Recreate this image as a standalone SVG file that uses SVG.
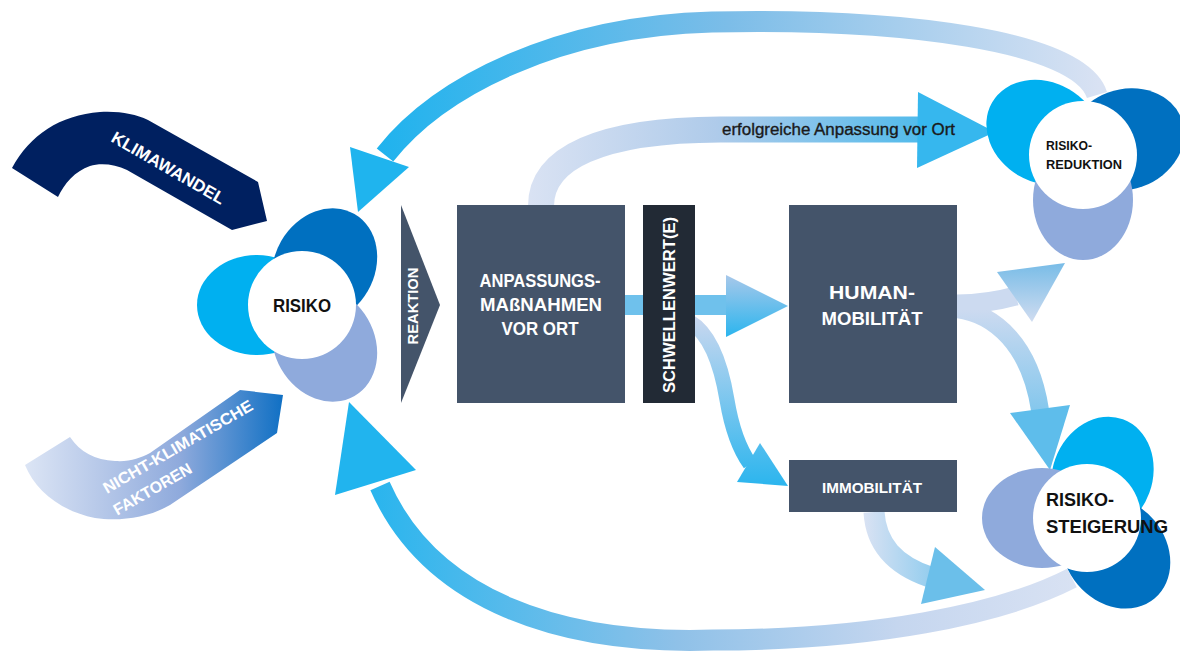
<svg xmlns="http://www.w3.org/2000/svg" width="1180" height="655" viewBox="0 0 1180 655">
  <style>
    .box { fill: #44546A; }
    .dark { fill: #222A35; }
    .lbl { font-family: "Liberation Sans", Arial, sans-serif; font-weight: bold; fill: #FFFFFF; }
    .blk { font-family: "Liberation Sans", Arial, sans-serif; font-weight: bold; fill: #111111; }
    .cyan { fill: #00B0F0; }
    .navy { fill: #0070C0; }
    .lav { fill: #8FAADC; }
    .core { fill: #FFFFFF; }
    .shaft { fill: none; stroke-linecap: butt; }
  </style>
  <defs>
    <linearGradient id="gTop" gradientUnits="userSpaceOnUse" x1="358" y1="0" x2="1100" y2="0">
      <stop offset="0" stop-color="#1AB2EE"/>
      <stop offset="0.5" stop-color="#7CBDE8"/>
      <stop offset="1" stop-color="#D9E2F3"/>
    </linearGradient>
    <linearGradient id="gBottom" gradientUnits="userSpaceOnUse" x1="349" y1="0" x2="1080" y2="0">
      <stop offset="0" stop-color="#22B4EE"/>
      <stop offset="0.45" stop-color="#8FC1E8"/>
      <stop offset="0.75" stop-color="#C5D6EF"/>
      <stop offset="1" stop-color="#D9E2F3"/>
    </linearGradient>
    <linearGradient id="gErfolg" gradientUnits="userSpaceOnUse" x1="530" y1="0" x2="995" y2="0">
      <stop offset="0" stop-color="#D9E2F3"/>
      <stop offset="0.4" stop-color="#AFCBEA"/>
      <stop offset="0.8" stop-color="#5ABCEB"/>
      <stop offset="1" stop-color="#2BB5EE"/>
    </linearGradient>
    <linearGradient id="gHead" gradientUnits="userSpaceOnUse" x1="0" y1="275" x2="0" y2="337">
      <stop offset="0" stop-color="#A8C8EA"/>
      <stop offset="1" stop-color="#2BB5EE"/>
    </linearGradient>
    <linearGradient id="gImmo" gradientUnits="userSpaceOnUse" x1="0" y1="318" x2="0" y2="486">
      <stop offset="0" stop-color="#C8D7EF"/>
      <stop offset="1" stop-color="#2BB5EE"/>
    </linearGradient>
    <linearGradient id="gImmoOut" gradientUnits="userSpaceOnUse" x1="864" y1="0" x2="985" y2="0">
      <stop offset="0" stop-color="#D9E2F3"/>
      <stop offset="1" stop-color="#5EBDEB"/>
    </linearGradient>
    <linearGradient id="gRed" gradientUnits="userSpaceOnUse" x1="0" y1="263" x2="0" y2="322">
      <stop offset="0" stop-color="#78BCE7"/>
      <stop offset="1" stop-color="#D0DCF0"/>
    </linearGradient>
    <linearGradient id="gSteig" gradientUnits="userSpaceOnUse" x1="0" y1="310" x2="0" y2="470">
      <stop offset="0" stop-color="#CCDAF0"/>
      <stop offset="1" stop-color="#5ABCEB"/>
    </linearGradient>
    <linearGradient id="gNicht" gradientUnits="userSpaceOnUse" x1="25" y1="0" x2="283" y2="0">
      <stop offset="0" stop-color="#DCE5F5"/>
      <stop offset="0.6" stop-color="#8FAADC"/>
      <stop offset="1" stop-color="#1070C4"/>
    </linearGradient>
    <!-- one petal, pointing along +x from the flower centre -->
    <ellipse id="petal" cx="45" cy="0" rx="60" ry="50"/>
  </defs>

  <!-- connectors -->
  <g id="connectors">
    <!-- Risiko-Reduktion back to Risiko -->
    <path class="shaft" d="M1097,95 C1080,40 900,18 712,22 C560,26 440,85 385,155" stroke="url(#gTop)" stroke-width="21"/>
    <polygon points="350,147 409,167 358,212" fill="#1FB4EE"/>
    <!-- Risiko-Steigerung back to Risiko -->
    <path class="shaft" d="M1072,578 C1000,615 870,640 713,640 C560,645 430,600 380,486" stroke="url(#gBottom)" stroke-width="21"/>
    <polygon points="416,470 335,495 349,402" fill="#21B4EE"/>
    <!-- erfolgreiche Anpassung vor Ort -->
    <path class="shaft" d="M541,206 C541,158 600,130 720,129.5 L920,129.5" stroke="url(#gErfolg)" stroke-width="26"/>
    <polygon points="918,92 995,132 917,168" fill="#36B7EE"/>
    <!-- Anpassung to Human-Mobilität -->
    <rect x="620" y="295" width="108" height="20" fill="#6FC1EC"/>
    <polygon points="726,275 788,306 726,337" fill="url(#gHead)"/>
    <!-- Schwellenwert to Immobilität -->
    <path class="shaft" d="M690,322 C712,335 722,370 727,400 C732,430 740,450 750,464" stroke="url(#gImmo)" stroke-width="15"/>
    <polygon points="760,443 737,482 788,486" fill="url(#gImmo)"/>
    <!-- Immobilität to Risiko-Steigerung -->
    <path class="shaft" d="M874,512 C876,545 895,565 930,577" stroke="url(#gImmoOut)" stroke-width="21"/>
    <polygon points="935,547 921,604 985,590" fill="#6BBFEA"/>
    <!-- Human-Mobilität to Risiko-Reduktion -->
    <path class="shaft" d="M957,304 C980,304 998,301 1016,296" stroke="#CCDAF0" stroke-width="19"/>
    <polygon points="997,272 1032,322 1065,263" fill="url(#gRed)"/>
    <!-- Human-Mobilität to Risiko-Steigerung -->
    <path class="shaft" d="M957,309 C995,314 1030,345 1040,410" stroke="url(#gSteig)" stroke-width="18"/>
    <polygon points="1010,413 1070,405 1050,470" fill="#5EBDEB"/>
  </g>

  <g id="klimawandel">
    <path d="M12,168 C30,135 60,115 100,112 C120,111 135,114 148,120 L258,182 L267,221 L232,230 L127,170 C115,164 100,163 90,166 C75,171 64,184 58,197 Z" fill="#002060"/>
    <text class="lbl" transform="translate(110,141) rotate(30)" font-size="17" textLength="128" lengthAdjust="spacingAndGlyphs">KLIMAWANDEL</text>
  </g>

  <g id="nicht-klimatische-faktoren">
    <path d="M70,437 C80,452 95,460 115,461 C130,462 140,458 150,453 L240,390 L283,395 L277,433 L170,505 C150,517 120,522 95,518 C60,511 35,490 25,465 Z" fill="url(#gNicht)"/>
    <g transform="translate(107,494) rotate(-30)">
      <text class="lbl" x="0" y="0" font-size="16" textLength="170" lengthAdjust="spacingAndGlyphs">NICHT-KLIMATISCHE</text>
      <text class="lbl" x="-2" y="24" font-size="16">FAKTOREN</text>
    </g>
  </g>

  <g id="risiko">
    <g transform="translate(302,305)">
      <use href="#petal" class="cyan" transform="rotate(180)"/>
      <use href="#petal" class="navy" transform="rotate(-60)"/>
      <use href="#petal" class="lav" transform="rotate(60)"/>
      <circle class="core" r="54"/>
    </g>
    <text class="blk" x="302" y="312" font-size="19" text-anchor="middle" textLength="58" lengthAdjust="spacingAndGlyphs">RISIKO</text>
  </g>

  <g id="reaktion">
    <polygon points="401,205 440,305 401,403" class="box"/>
    <text class="lbl" transform="translate(418,306) rotate(-90)" font-size="15" text-anchor="middle" textLength="77" lengthAdjust="spacingAndGlyphs">REAKTION</text>
  </g>

  <g id="anpassung">
    <rect x="457" y="205" width="168" height="198" class="box"/>
    <text class="lbl" x="540" y="287" font-size="18" text-anchor="middle" textLength="121" lengthAdjust="spacingAndGlyphs">ANPASSUNGS-</text>
    <text class="lbl" x="541" y="311" font-size="18" text-anchor="middle" textLength="122" lengthAdjust="spacingAndGlyphs">MAßNAHMEN</text>
    <text class="lbl" x="540" y="335" font-size="18" text-anchor="middle" textLength="77" lengthAdjust="spacingAndGlyphs">VOR ORT</text>
  </g>

  <g id="schwellenwert">
    <rect x="643" y="205" width="52" height="198" class="dark"/>
    <text class="lbl" transform="translate(675,305) rotate(-90)" font-size="17" text-anchor="middle" textLength="176" lengthAdjust="spacingAndGlyphs">SCHWELLENWERT(E)</text>
  </g>

  <g id="human-mobilitaet">
    <rect x="789" y="205" width="168" height="198" class="box"/>
    <text class="lbl" x="872" y="299" font-size="19" text-anchor="middle" textLength="86" lengthAdjust="spacingAndGlyphs">HUMAN-</text>
    <text class="lbl" x="872" y="325" font-size="19" text-anchor="middle" textLength="101" lengthAdjust="spacingAndGlyphs">MOBILITÄT</text>
  </g>

  <g id="immobilitaet">
    <rect x="789" y="460" width="168" height="52" class="box"/>
    <text class="lbl" x="872" y="493" font-size="15" text-anchor="middle" textLength="100" lengthAdjust="spacingAndGlyphs">IMMOBILITÄT</text>
  </g>

  <g id="erfolgreiche-anpassung">
    <text x="722" y="135" font-family="Liberation Sans, Arial, sans-serif" font-size="16" fill="#1A1A1A" stroke="#1A1A1A" stroke-width="0.35" textLength="233" lengthAdjust="spacingAndGlyphs">erfolgreiche Anpassung vor Ort</text>
  </g>

  <g id="risiko-reduktion">
    <g transform="translate(1083,155)">
      <use href="#petal" class="cyan" transform="rotate(-150)"/>
      <use href="#petal" class="navy" transform="rotate(-20)"/>
      <use href="#petal" class="lav" transform="rotate(90)"/>
      <circle class="core" r="54"/>
    </g>
    <text class="blk" x="1046" y="150" font-size="13" textLength="46" lengthAdjust="spacingAndGlyphs">RISIKO-</text>
    <text class="blk" x="1046" y="169" font-size="13" textLength="76" lengthAdjust="spacingAndGlyphs">REDUKTION</text>
  </g>

  <g id="risiko-steigerung">
    <g transform="translate(1087,518)">
      <use href="#petal" class="cyan" transform="rotate(-70)"/>
      <use href="#petal" class="lav" transform="rotate(180)"/>
      <use href="#petal" class="navy" transform="rotate(50)"/>
      <circle class="core" r="54"/>
    </g>
    <text class="blk" x="1046" y="506" font-size="18" textLength="68" lengthAdjust="spacingAndGlyphs">RISIKO-</text>
    <text class="blk" x="1046" y="533" font-size="18" textLength="122" lengthAdjust="spacingAndGlyphs">STEIGERUNG</text>
  </g>
</svg>
